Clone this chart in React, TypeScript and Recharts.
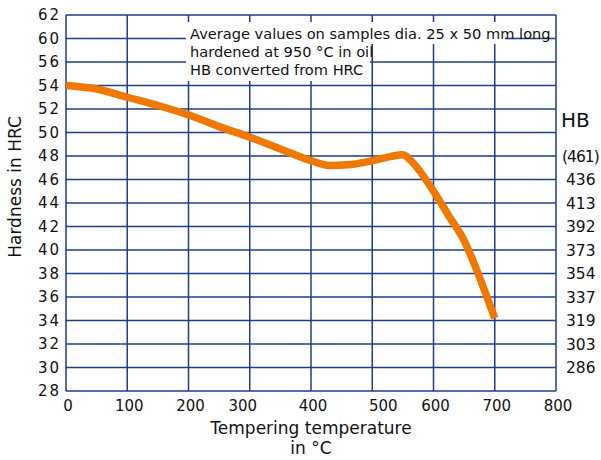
import { CartesianGrid, Label, Line, LineChart, XAxis, YAxis } from 'recharts'

// tempering temperature (°C) vs hardness (HRC)
const temps = [0, 50, 100, 150, 200, 250, 300, 350, 400, 430, 460, 500, 530, 550, 565, 600, 625, 650, 675, 700]
const hrc = [54.0, 53.7, 53.0, 52.3, 51.5, 50.5, 49.6, 48.6, 47.6, 47.2, 47.25, 47.6, 47.95, 48.1, 47.5, 45.0, 42.9, 40.8, 37.7, 34.2]

const xTicks = [0, 100, 200, 300, 400, 500, 600, 700, 800]
const yTicks = [28, 30, 32, 34, 36, 38, 40, 42, 44, 46, 48, 50, 52, 54, 56, 58, 60]
// the printed scale skips "58", so the top labels read one step high
const yTickLabels = ['28', '30', '32', '34', '36', '38', '40', '42', '44', '46', '48', '50', '52', '54', '56', '60', '62']
const hbTicks = [30, 32, 34, 36, 38, 40, 42, 44, 46, 48]
const hbLabels = ['286', '303', '319', '337', '354', '373', '392', '413', '436', '(461)']

const notes = [
  'Average values on samples dia. 25 x 50 mm long',
  'hardened at 950 °C in oil',
  'HB converted from HRC',
]

const data = temps.map((t, i) => ({ temp: t, hrc: hrc[i] }))

const GRID = '#1d3c8c'
const FONT = '"DejaVu Sans", sans-serif'
const xNudge: Record<number, number> = { 300: -9, 500: 9 }

function LeftTick({ x, y, payload }: any) {
  const i = yTicks.indexOf(payload.value)
  return (
    <text x={x} y={y} dy="0.355em" textAnchor="end" fontSize={15} fontFamily={FONT} fill="#111" letterSpacing={2}>
      {yTickLabels[i]}
    </text>
  )
}

function RightTick({ x, y, payload }: any) {
  const i = hbTicks.indexOf(payload.value)
  const label = hbLabels[i]
  const paren = label.startsWith('(')
  return (
    <text
      x={x + (paren ? -4 : 0)}
      y={y}
      dy="0.355em"
      textAnchor="start"
      fontSize={15.5}
      fontFamily={FONT}
      fill="#111"
      letterSpacing={paren ? -1 : 0}
    >
      {label}
    </text>
  )
}

function BottomTick({ x, y, payload }: any) {
  const v = payload.value
  return (
    <text x={x + 2 + (xNudge[v] ?? 0)} y={y} dy="0.71em" textAnchor="middle" fontSize={15} fontFamily={FONT} fill="#111">
      {v}
    </text>
  )
}

export default function App() {
  return (
    <div style={{ position: 'relative', width: 601, height: 460, background: '#fff' }}>
      <style>{'body{margin:0}'}</style>
      <LineChart width={601} height={460} data={data} margin={{ top: 15, right: 0, bottom: 0, left: 0 }}>
        <CartesianGrid yAxisId="left" stroke={GRID} strokeWidth={1.5} strokeOpacity={1} />
        <XAxis
          dataKey="temp"
          type="number"
          domain={[0, 800]}
          ticks={xTicks}
          axisLine={false}
          tickLine={false}
          tickSize={0}
          tickMargin={9}
          tick={<BottomTick />}
          height={69}
        >
          <Label
            content={() => (
              <g fontFamily={FONT} fontSize={17} fill="#111" textAnchor="middle">
                <text x={311} y={434}>Tempering temperature</text>
                <text x={311} y={454}>in °C</text>
              </g>
            )}
          />
        </XAxis>
        <YAxis
          yAxisId="left"
          type="number"
          domain={[28, 60]}
          ticks={yTicks}
          interval={0}
          axisLine={false}
          tickLine={false}
          tickSize={0}
          tickMargin={5}
          width={66}
          tick={<LeftTick />}
        >
          <Label
            content={() => (
              <text transform="translate(20.5,187) rotate(-90)" textAnchor="middle" fontFamily={FONT} fontSize={17} fill="#111">
                Hardness in HRC
              </text>
            )}
          />
        </YAxis>
        <YAxis
          yAxisId="right"
          orientation="right"
          type="number"
          domain={[28, 60]}
          allowDataOverflow
          ticks={hbTicks}
          interval={0}
          axisLine={false}
          tickLine={false}
          tickSize={0}
          tickMargin={10}
          width={45}
          tick={<RightTick />}
        >
          <Label
            content={({ viewBox }: any) => (
              <text x={viewBox.x + 5} y={127} fontFamily={FONT} fontSize={20} fill="#111">
                HB
              </text>
            )}
          />
        </YAxis>
        <Line
          yAxisId="left"
          dataKey="hrc"
          type="monotone"
          stroke="#f07800"
          strokeWidth={7.5}
          dot={false}
          isAnimationActive={false}
        />
      </LineChart>
      <div style={{ position: 'absolute', left: 186, top: 22, width: 319, height: 22, background: '#fff' }} />
      <div style={{ position: 'absolute', left: 186, top: 44, width: 184, height: 37, background: '#fff' }} />
      <div
        style={{
          position: 'absolute',
          left: 190,
          top: 24.8,
          fontFamily: FONT,
          fontSize: 14.6,
          lineHeight: '18.3px',
          color: '#111',
          whiteSpace: 'nowrap',
        }}
      >
        {notes.map((n) => (
          <div key={n}>{n}</div>
        ))}
      </div>
    </div>
  )
}
